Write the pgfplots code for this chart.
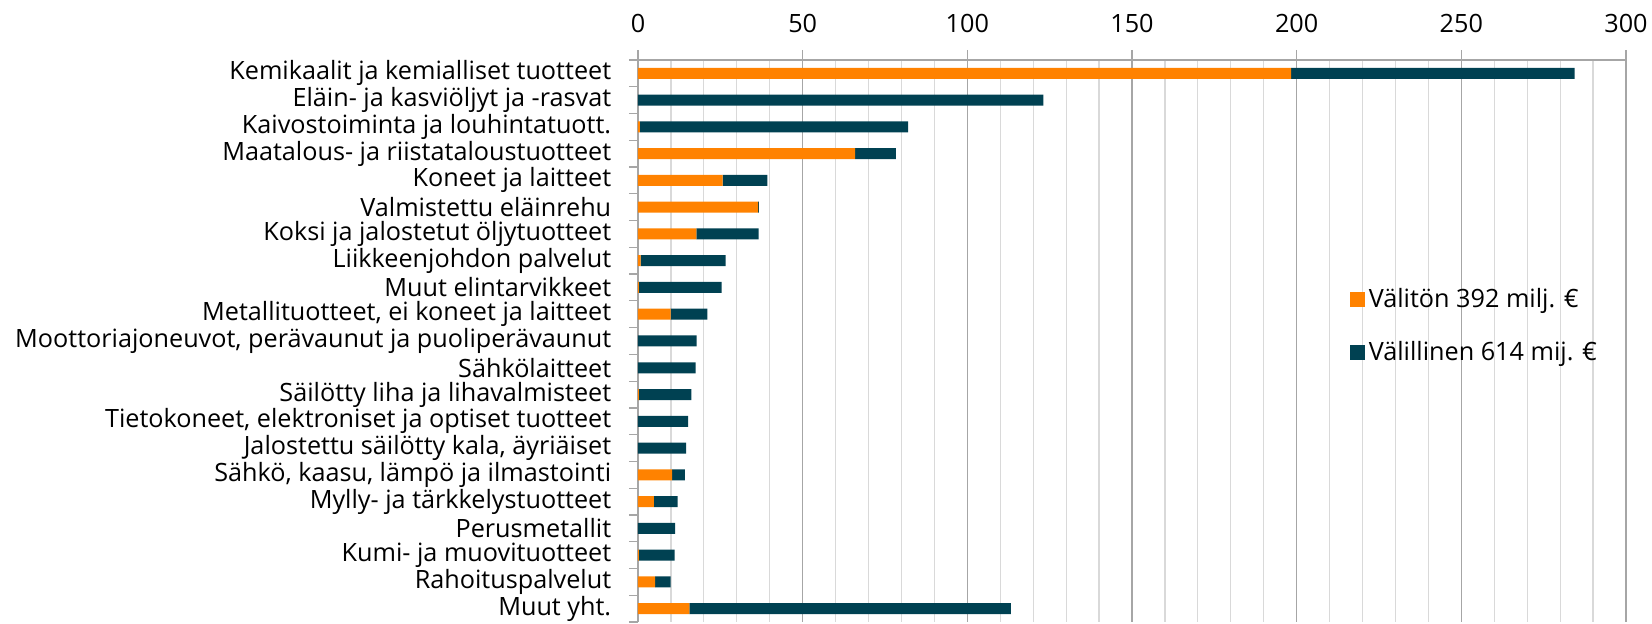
\documentclass[border=0pt]{standalone}
\usepackage{fontspec}
\setmainfont{Open Sans}
\usepackage{pgfplots}
\pgfplotsset{compat=1.18}
\definecolor{cor}{RGB}{255,130,0}
\definecolor{cdk}{RGB}{0,65,82}
\definecolor{gmaj}{RGB}{166,166,166}
\definecolor{gmin}{RGB}{217,217,217}
\begin{document}
\begin{tikzpicture}
\useasboundingbox (-319pt,-1pt) rectangle (507pt,311pt);
\begin{axis}[
  at={(0,0)}, anchor=south west,
  scale only axis, width=494pt, height=281pt,
  xbar stacked, bar width=5.5pt,
  xmin=0, xmax=300, ymin=-0.5, ymax=20.5, y dir=reverse,
  axis x line*=top, axis y line*=left,
  axis line style={gmaj, line width=0.6pt},
  xtick={0,50,...,300}, minor x tick num=4,
  xmajorgrids, xminorgrids,
  major grid style={gmaj, line width=0.6pt},
  minor grid style={gmin, line width=0.6pt},
  tick align=outside,
  major tick length=5pt, minor tick length=4.5pt,
  major x tick style={gmaj, line width=0.6pt},
  minor x tick style={draw=none},
  major y tick style={draw=none},
  minor y tick style={gmaj, line width=0.6pt},
  ytick={0,...,20},
  minor ytick={-0.5,0.5,...,20.5},
  yticklabels={
    Kemikaalit ja kemialliset tuotteet,
    Eläin- ja kasviöljyt ja -rasvat\hspace{0.3em},
    Kaivostoiminta ja louhintatuott.,
    Maatalous- ja riistataloustuotteet,
    Koneet ja laitteet,
    Valmistettu eläinrehu,
    Koksi ja jalostetut öljytuotteet,
    Liikkeenjohdon palvelut,
    Muut elintarvikkeet\hspace{0.3em},
    {Metallituotteet, ei koneet ja laitteet},
    {Moottoriajoneuvot, perävaunut ja puoliperävaunut},
    Sähkölaitteet,
    Säilötty liha ja lihavalmisteet\hspace{0.3em},
    {Tietokoneet, elektroniset ja optiset tuotteet},
    {Jalostettu säilötty kala, äyriäiset},
    {Sähkö, kaasu, lämpö ja ilmastointi},
    Mylly- ja tärkkelystuotteet\hspace{0.3em},
    Perusmetallit,
    Kumi- ja muovituotteet,
    Rahoituspalvelut,
    Muut yht.},
  /pgf/number format/assume math mode=true,
  tick label style={font=\fontsize{12.6}{13}\selectfont},
  yticklabel style={anchor=east, inner sep=0pt, xshift=-8.2pt},
  xticklabel style={yshift=5pt},
  legend style={draw=none, fill=none, at={(0.714,0.609)}, anchor=north west,
    font=\fontsize{12.6}{13}\selectfont, row sep=11.5pt,
    /tikz/every even column/.append style={column sep=0pt}},
  legend cell align=left,
  legend image code/.code={\fill[#1] (0pt,-3.75pt) rectangle (7.5pt,3.75pt);},
]
\addplot[fill=cor, draw=none] coordinates {
(198.3,0) (0,1) (0.6,2) (65.9,3) (25.7,4) (36.5,5) (17.7,6) (0.8,7) (0.3,8) (9.9,9)
(0,10) (0,11) (0.3,12) (0,13) (0,14) (10.4,15) (4.8,16) (0,17) (0.3,18) (5.2,19) (15.6,20)};
\addlegendentry{Välitön 392 milj. €}
\addplot[fill=cdk, draw=none] coordinates {
(86.1,0) (123.1,1) (81.4,2) (12.4,3) (13.6,4) (0.2,5) (18.9,6) (25.8,7) (25.1,8) (11.2,9)
(17.8,10) (17.5,11) (15.9,12) (15.2,13) (14.6,14) (3.8,15) (7.2,16) (11.3,17) (10.8,18) (4.7,19) (97.6,20)};
\addlegendentry{Välillinen 614 mij. €}
\end{axis}
\end{tikzpicture}
\end{document}
